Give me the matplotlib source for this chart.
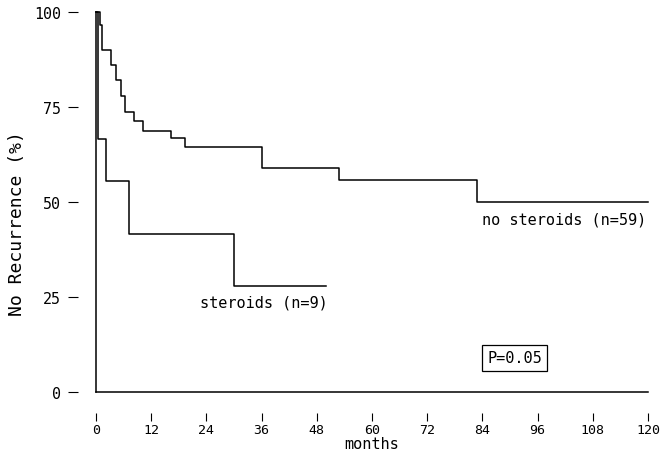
import matplotlib
matplotlib.use("Agg")
import matplotlib.pyplot as plt

# Kaplan-Meier estimates (months, % without recurrence)
no_steroids_t = [0, 0.9, 1.2, 3.3, 4.4, 5.4, 6.3, 8.3, 10.3, 16.2, 19.3, 36.1, 52.8, 82.8, 120]
no_steroids_s = [100, 96.6, 90.0, 86.1, 82.1, 78.0, 73.6, 71.3, 68.8, 66.8, 64.5, 59.0, 55.9, 50.0, 50.0]
steroids_t = [0, 0.4, 2.2, 7.2, 30.0, 50.0]
steroids_s = [100, 66.7, 55.6, 41.7, 27.8, 27.8]

x_ticks = list(range(0, 121, 12))
y_ticks = [0, 25, 50, 75, 100]

MONO = ["DejaVu Sans Mono"]

fig = plt.figure(figsize=(6.6, 4.52), dpi=100)
ax = fig.add_axes([96 / 660, 59 / 452, 552 / 660, 380 / 452])

lw = 1.1
ax.step(no_steroids_t, no_steroids_s, where="post", color="black", lw=lw, clip_on=False)
ax.step(steroids_t, steroids_s, where="post", color="black", lw=lw, clip_on=False)

# axis lines drawn at the origin, tick marks detached from them
ax.axvline(0, color="black", lw=lw, clip_on=False)
ax.axhline(0, color="black", lw=lw, clip_on=False)
for side in ["top", "right"]:
    ax.spines[side].set_visible(False)
ax.spines["left"].set_position(("outward", 13))
ax.spines["bottom"].set_position(("outward", 15))
ax.spines["left"].set_visible(False)
ax.spines["bottom"].set_visible(False)

ax.set_xlim(0, 120)
ax.set_ylim(0, 100)
ax.set_xticks(x_ticks)
ax.set_yticks(y_ticks)
ax.tick_params(axis="y", direction="out", length=7.2, width=0.8, pad=5)
ax.tick_params(axis="x", direction="out", length=5.8, width=0.8, pad=1.5)
for lab in ax.get_yticklabels():
    lab.set_family(MONO)
    lab.set_fontsize(10.8)
for lab in ax.get_xticklabels():
    lab.set_family(MONO)
    lab.set_fontsize(9.5)

ax.set_ylabel("No Recurrence (%)", family=MONO, fontsize=13)
ax.yaxis.set_label_coords(-0.127, 0.445)
ax.set_xlabel("months", family=MONO, fontsize=11)
ax.xaxis.set_label_coords(0.5, -0.117)

ax.text(84, 45.6, "no steroids (n=59)", family=MONO, fontsize=11, va="center", ha="left")
ax.text(22.6, 23.7, "steroids (n=9)", family=MONO, fontsize=11, va="center", ha="left")
ax.text(91, 9, "P=0.05", family=MONO, fontsize=11, va="center", ha="center",
        bbox=dict(boxstyle="square,pad=0.35", fc="white", ec="black", lw=0.9))

fig.savefig("out.png", dpi=100)
